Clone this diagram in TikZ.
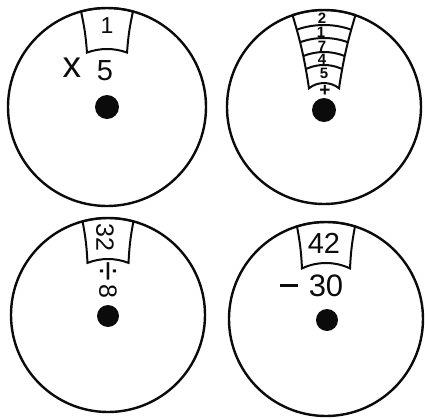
\documentclass[tikz,border=0pt]{standalone}
\usepackage{fontspec}
\setmainfont{Liberation Sans}
\usetikzlibrary{calc}
\definecolor{ink}{HTML}{0B0B0B}

% window cut into a dial: outer radius, outer half angle, inner radius, inner half angle
\newcommand{\slotpath}[4]{(270-#2:#1) to[bend left=4] (270-#4:#3)
  arc[start angle=270-#4,end angle=270+#4,radius=#3]
  to[bend left=4] (270+#2:#1)
  arc[start angle=270+#2,end angle=270-#2,radius=#1] -- cycle}

\begin{document}
\begin{tikzpicture}[x=0.5pt,y=-0.5pt,
    disc/.style={draw=ink,line width=1.2pt},
    slot/.style={draw=ink,line width=1pt},
    hub/.style={fill=ink},
    big/.style={font=\fontsize{14.5}{14.5}\selectfont,text=ink,inner sep=0pt},
    mid/.style={font=\fontsize{12.5}{12.5}\selectfont,text=ink,inner sep=0pt},
    tiny/.style={font=\bfseries\fontsize{7.5}{7.5}\selectfont,text=ink,inner sep=0pt}]
  \useasboundingbox (0,0) rectangle (425,419);

  \coordinate (c1) at (107,107);
  \coordinate (c2) at (324,107);
  \coordinate (c3) at (108,315);
  \coordinate (c4) at (326,319);

  % dial 1
  \draw[disc] (c1) circle[radius=99];
  \begin{scope}[shift={(c1)}]
    \draw[slot] \slotpath{99}{15.2}{58}{20.2};
  \end{scope}
  \fill[hub] ($(c1)+(0,0)$) circle[radius=12];
  \node[mid,font=\fontsize{11.5}{11.5}\selectfont] (one) at (107,26) {1};
  \node[big,font=\fontsize{18.5}{18.5}\selectfont] (times) at (72,68) {x};
  \node[big] (five) at (105,71) {5};

  % dial 2
  \draw[disc] (c2) circle[radius=97];
  \begin{scope}[shift={(c2)}]
    \draw[slot] \slotpath{97}{18.9}{24}{38.7};
    \begin{scope}
      \clip \slotpath{97}{18.9}{24}{38.7};
      \foreach \r in {82,69,55,42}
        \draw[slot] (0,0) circle[radius=\r];
    \end{scope}
  \end{scope}
  \fill[hub] ($(c2)+(0,3)$) circle[radius=12];
  \node[tiny] (d2) at (322,18) {2};
  \node[tiny] (d1) at (321,32) {1};
  \node[tiny] (d7) at (322,46) {7};
  \node[tiny] (d4) at (322,59) {4};
  \node[tiny] (d5) at (324,73) {5};
  \node[tiny,font=\bfseries\fontsize{9.5}{9.5}\selectfont] (plus) at (325,91) {+};

  % dial 3
  \draw[disc] (c3) circle[radius=97];
  \begin{scope}[shift={(c3)}]
    \draw[slot] \slotpath{97}{15.2}{56}{21.5};
  \end{scope}
  \fill[hub] ($(c3)+(0,1)$) circle[radius=11];
  \node[mid,rotate=-90] (thirtytwo) at (105,237) {32};
  \node[mid,rotate=-90,font=\fontsize{18}{18}\selectfont] (divide) at (107,271) {÷};
  \node[mid,rotate=-90] (eight) at (108,291) {8};

  % dial 4
  \draw[disc] (c4) circle[radius=97];
  \begin{scope}[shift={(c4)}]
    \draw[slot] \slotpath{97}{17.4}{56}{25.4};
  \end{scope}
  \fill[hub] ($(c4)+(1,1)$) circle[radius=11];
  \node[big] (fortytwo) at (324,243) {42};
  \node[big] (minus) at (289,285) {\rule{9pt}{1.5pt}};
  \node[big,font=\fontsize{15.5}{15.5}\selectfont] (thirty) at (326,286) {30};
\end{tikzpicture}
\end{document}
